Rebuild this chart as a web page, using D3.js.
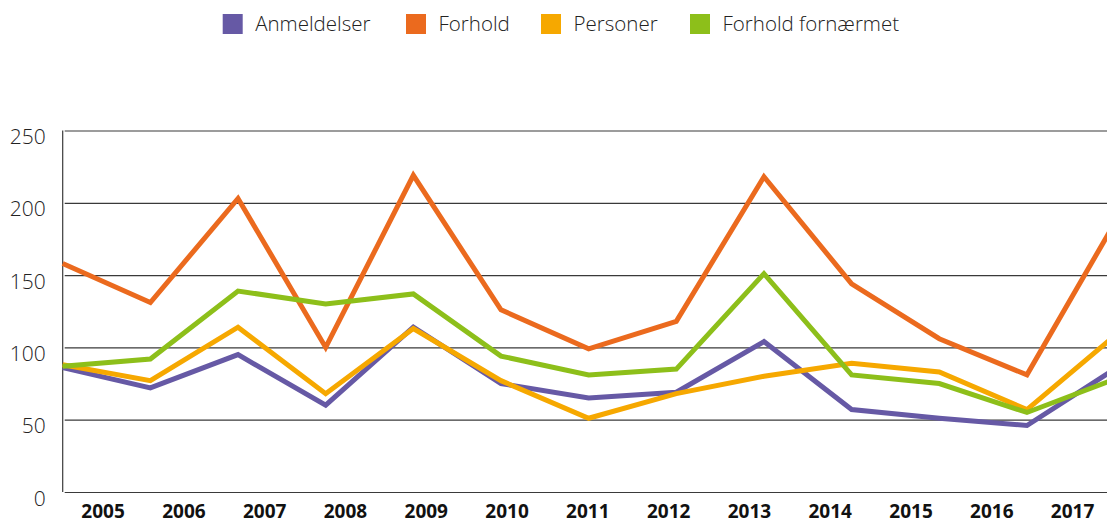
<!DOCTYPE html>
<html>
<head>
<meta charset="utf-8">
<script src="https://cdn.jsdelivr.net/npm/d3@7"></script>
<style>
  html, body { margin: 0; padding: 0; background: #fff; }
  svg { display: block; }
</style>
</head>
<body>
<svg id="chart" width="1107" height="524"></svg>
<script>
const years = ["2005","2006","2007","2008","2009","2010","2011","2012","2013","2014","2015","2016","2017"];
const anmeldelser = [86, 72, 95, 60, 114, 75, 65, 69, 104, 57, 51, 46, 85];
const forhold = [158, 131, 203, 100, 219, 126, 99, 118, 218, 144, 106, 81, 186];
const personer = [88, 77, 114, 68, 113, 77, 51, 68, 80, 89, 83, 57, 108];
const forholdFornaermet = [87, 92, 139, 130, 137, 94, 81, 85, 151, 81, 75, 55, 78];
const yTicks = [0, 50, 100, 150, 200, 250];

const seriesNames = ["Anmeldelser", "Forhold", "Personer", "Forhold fornærmet"];
const seriesColors = ["#6659A5", "#EB6A1E", "#F6A800", "#8DBF1A"];
const seriesValues = [anmeldelser, forhold, personer, forholdFornaermet];

const svg = d3.select("#chart");
const plotLeft = 62.7, plotTop = 130.5, plotBottom = 492;
const pointRight = 1114.6, bandRight = 1113;

const x = d3.scalePoint().domain(years).range([plotLeft, pointRight]);
const xb = d3.scaleBand().domain(years).range([plotLeft, bandRight]);
const y = d3.scaleLinear().domain([0, 250]).range([plotBottom, plotTop]);

// gridlines + y labels
const yAxis = d3.axisLeft(y).tickValues(yTicks).tickSize(-(1107 - plotLeft)).tickPadding(17);
const gy = svg.append("g").attr("transform", `translate(${plotLeft},0)`).call(yAxis);
gy.select(".domain").remove();
gy.selectAll(".tick line").attr("stroke", "#3a3a3a").attr("stroke-width", 1.2).attr("x1", 2);
gy.selectAll(".tick text")
  .attr("font-family", "'Open Sans', sans-serif")
  .attr("font-weight", 300)
  .attr("font-size", 21)
  .attr("fill", "#222")
  .attr("dy", "0.62em");

// vertical axis line
svg.append("line")
  .attr("x1", plotLeft).attr("x2", plotLeft)
  .attr("y1", y(250)).attr("y2", y(0))
  .attr("stroke", "#3a3a3a").attr("stroke-width", 1.2);

// x labels
const xAxis = d3.axisBottom(xb).tickSize(0).tickPadding(0);
const gx = svg.append("g").attr("transform", `translate(0,${plotBottom})`).call(xAxis);
gx.select(".domain").remove();
gx.selectAll(".tick text")
  .attr("font-family", "'Open Sans', sans-serif")
  .attr("font-weight", 700)
  .attr("font-size", 19)
  .attr("fill", "#111")
  .attr("y", 26)
  .attr("dy", 0);

// lines
const line = d3.line().x((d, i) => x(years[i])).y(d => y(d));
seriesValues.forEach((vals, k) => {
  svg.append("path")
    .datum(vals)
    .attr("d", line)
    .attr("fill", "none")
    .attr("stroke", seriesColors[k])
    .attr("stroke-width", 5)
    .attr("stroke-linejoin", "miter");
});

// legend
const legendX = [222.7, 406, 541, 690];
const legend = svg.append("g");
seriesNames.forEach((name, k) => {
  legend.append("rect")
    .attr("x", legendX[k]).attr("y", 14)
    .attr("width", 20).attr("height", 20)
    .attr("fill", seriesColors[k]);
  legend.append("text")
    .attr("x", legendX[k] + 32.5).attr("y", 24)
    .attr("dy", "0.35em")
    .attr("font-family", "'Open Sans', sans-serif")
    .attr("font-weight", 300)
    .attr("font-size", 20.5)
    .attr("fill", "#222")
    .text(name);
});
</script>
</body>
</html>
